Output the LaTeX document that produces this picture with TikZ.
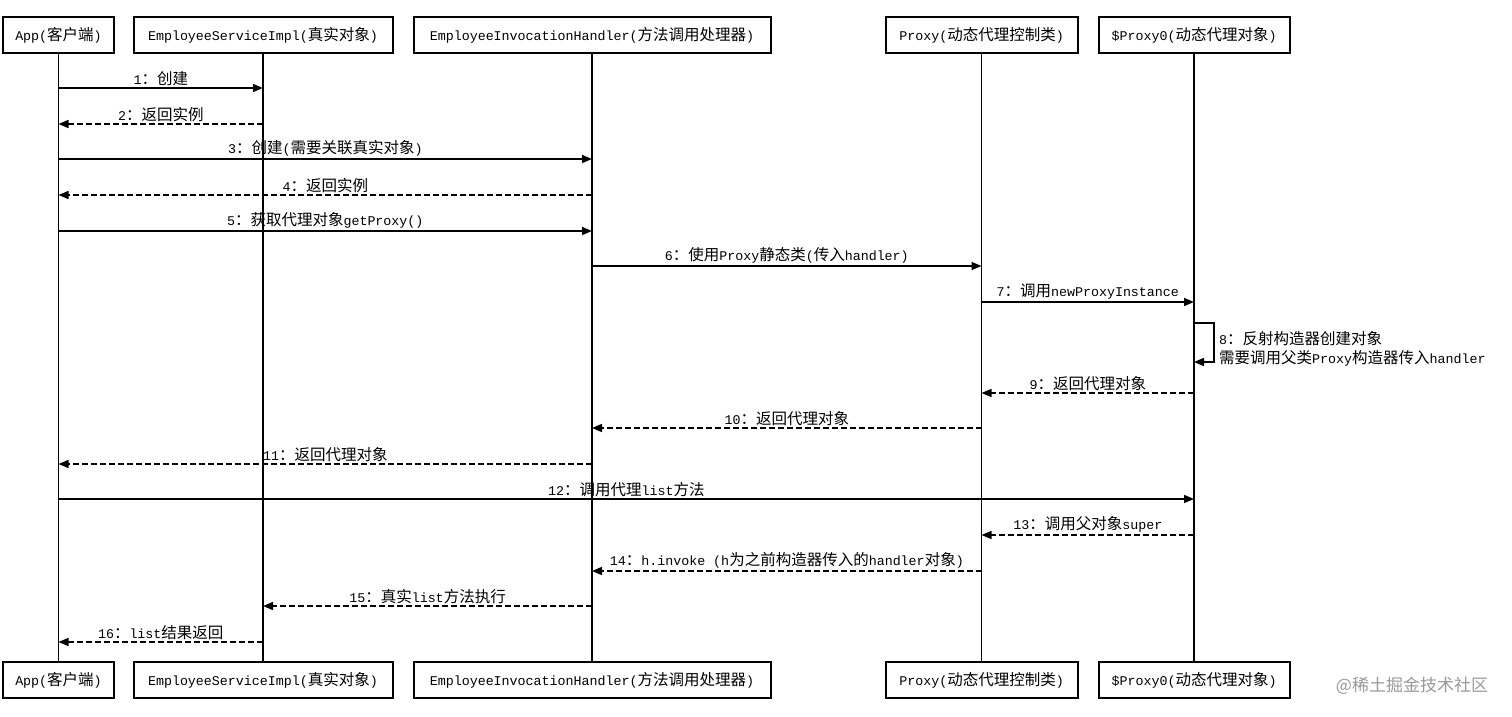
\documentclass[tikz,border=0pt]{standalone}
\usepackage{fontspec}
\usetikzlibrary{arrows.meta}
\newfontfamily\latfont{Liberation Mono}
\newfontfamily\cjkfont{Noto Sans CJK SC}
\newcommand\zh[1]{{\cjkfont\fontsize{15.5}{18}\selectfont #1}}
\tikzset{
  actor/.style={draw, line width=2pt, minimum height=36pt, inner sep=0pt,
    font=\latfont\fontsize{13.33}{16}\selectfont},
  lifeline/.style={line width=1.6pt},
  call/.style={line width=1.6pt, -{Triangle[length=10pt,width=8pt]}},
  reply/.style={call, dash pattern=on 6pt off 3pt},
  lbl/.style={midway, above, inner sep=1.5pt, font=\latfont\fontsize{13.33}{16}\selectfont},
}
\begin{document}
\begin{tikzpicture}[x=1pt, y=-1pt]
  \useasboundingbox[fill=white] (0,0) rectangle (1512,716);
  \foreach \pos/\yy in {t/35, b/680} {
    \node[actor, minimum width=111] (\pos-app) at (58.5,\yy) {App(\zh{客户端})};
    \node[actor, minimum width=259] (\pos-esi) at (263,\yy) {EmployeeServiceImpl(\zh{真实对象})};
    \node[actor, minimum width=357] (\pos-eih) at (592,\yy) {EmployeeInvocationHandler(\zh{方法调用处理器})};
    \node[actor, minimum width=192] (\pos-pxy) at (981.5,\yy) {Proxy(\zh{动态代理控制类})};
    \node[actor, minimum width=191] (\pos-pxo) at (1194,\yy) {\$Proxy0(\zh{动态代理对象})};
  }
  \foreach \a in {app,esi,eih,pxy,pxo}
    \draw[lifeline] (t-\a.south) -- (b-\a.north);
  \foreach \n/\yy in {1/88, 2/124, 3/159, 4/195, 5/231, 6/266, 7/302, 8/323, 8b/362,
      9/393, 10/428, 11/464, 12/499, 13/535, 14/571, 15/606, 16/642}
    \coordinate (r\n) at (0,\yy);
  \draw[call] (t-app |- r1) -- (t-esi |- r1) node[lbl]{1\zh{：创建}};
  \draw[reply] (t-esi |- r2) -- (t-app |- r2) node[lbl]{2\zh{：返回实例}};
  \draw[call] (t-app |- r3) -- (t-eih |- r3) node[lbl]{3\zh{：创建}(\zh{需要关联真实对象})};
  \draw[reply] (t-eih |- r4) -- (t-app |- r4) node[lbl]{4\zh{：返回实例}};
  \draw[call] (t-app |- r5) -- (t-eih |- r5) node[lbl]{5\zh{：获取代理对象}getProxy()};
  \draw[call] (t-eih |- r6) -- (t-pxy |- r6) node[lbl]{6\zh{：使用}Proxy\zh{静态类}(\zh{传入}handler)};
  \draw[call] (t-pxy |- r7) -- (t-pxo |- r7) node[lbl]{7\zh{：调用}newProxyInstance};
  \draw[call] (t-pxo |- r8) -- ++(20,0) coordinate (loop8) |- (t-pxo |- r8b);
  \node[anchor=west, align=left, inner sep=0pt, font=\latfont\fontsize{13.33}{19}\selectfont]
    (note8) at ([xshift=5pt]loop8 |- 0,349) {8\zh{：反射构造器创建对象}\\\zh{需要调用父类}Proxy\zh{构造器传入}handler};
  \draw[reply] (t-pxo |- r9) -- (t-pxy |- r9) node[lbl]{9\zh{：返回代理对象}};
  \draw[reply] (t-pxy |- r10) -- (t-eih |- r10) node[lbl]{10\zh{：返回代理对象}};
  \draw[reply] (t-eih |- r11) -- (t-app |- r11) node[lbl]{11\zh{：返回代理对象}};
  \draw[call] (t-app |- r12) -- (t-pxo |- r12) node[lbl]{12\zh{：调用代理}list\zh{方法}};
  \draw[reply] (t-pxo |- r13) -- (t-pxy |- r13) node[lbl]{13\zh{：调用父对象}super};
  \draw[reply] (t-pxy |- r14) -- (t-eih |- r14) node[lbl]{14\zh{：}h.invoke (h\zh{为之前构造器传入的}handler\zh{对象})};
  \draw[reply] (t-eih |- r15) -- (t-esi |- r15) node[lbl]{15\zh{：真实}list\zh{方法执行}};
  \draw[reply] (t-esi |- r16) -- (t-app |- r16) node[lbl]{16\zh{：}list\zh{结果返回}};
  \node[text=black!40, font=\cjkfont\fontsize{17}{20}\selectfont] (mark) at (1412,686) {@稀土掘金技术社区};
\end{tikzpicture}
\end{document}
